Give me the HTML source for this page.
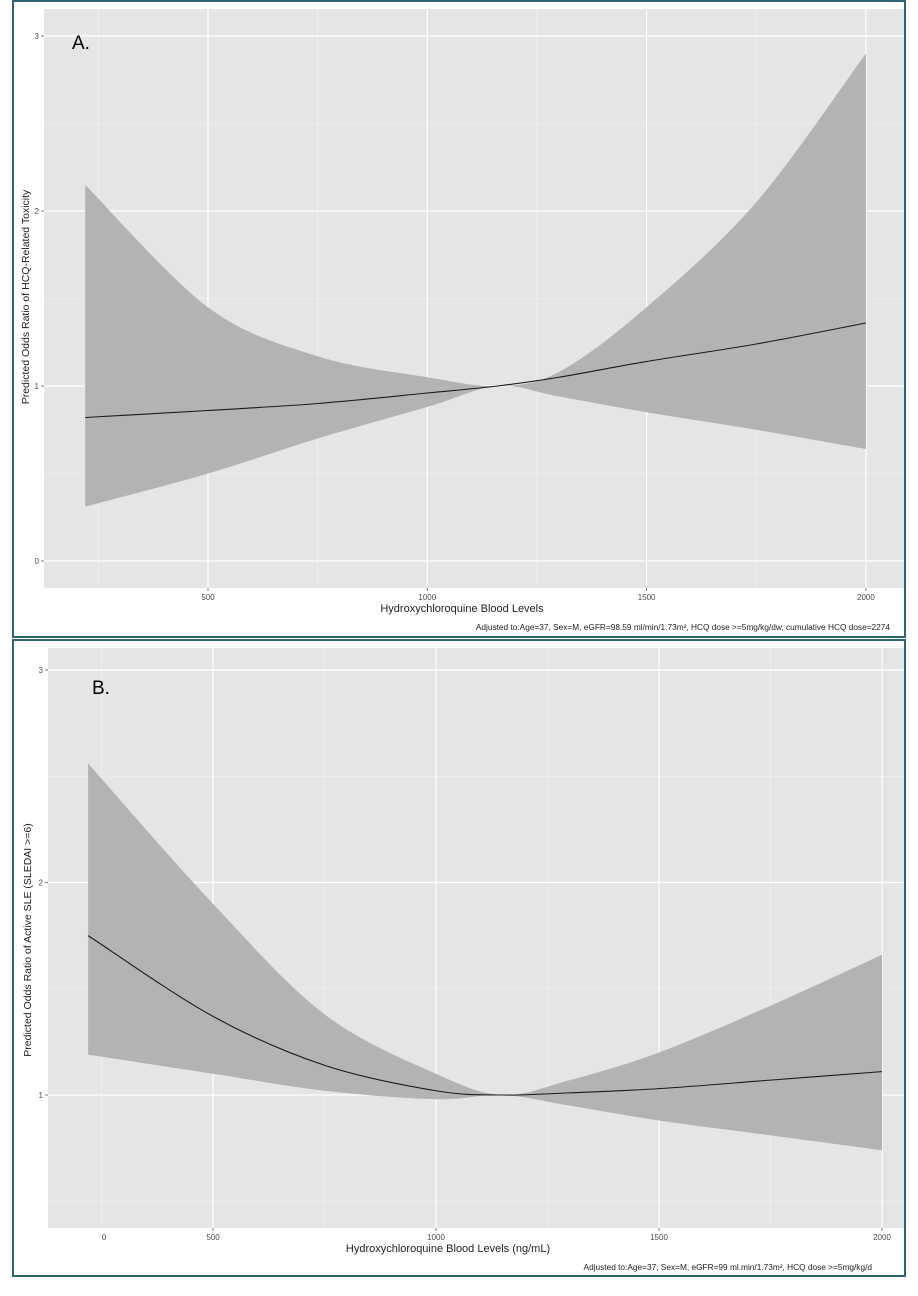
<!DOCTYPE html>
<html><head><meta charset="utf-8"><style>
html,body{margin:0;padding:0;background:#fff;}
svg{display:block;font-family:"Liberation Sans",sans-serif;}
</style></head><body>
<svg id="s" width="918" height="1296" viewBox="0 0 918 1296">
<rect x="0" y="0" width="918" height="1296" fill="#fff"/>
<g id="A"></g>
<g id="B"></g>
</svg>
<script>
// Panel A data
const aX = [220, 500, 750, 1000, 1160, 1300, 1500, 1750, 2000];
const aFit = [0.82, 0.86, 0.90, 0.96, 1.0, 1.05, 1.14, 1.24, 1.36];
const aUpper = [2.15, 1.45, 1.17, 1.05, 1.0, 1.08, 1.45, 2.05, 2.9];
const aLower = [0.31, 0.50, 0.70, 0.88, 1.0, 0.94, 0.85, 0.75, 0.64];
const aXTicks = [500, 1000, 1500, 2000];
const aYTicks = [0, 1, 2, 3];
// Panel B data
const bX = [220, 500, 750, 1000, 1150, 1300, 1500, 1750, 2000];
const bFit = [1.75, 1.37, 1.14, 1.02, 1.0, 1.01, 1.03, 1.07, 1.11];
const bUpper = [2.56, 1.9, 1.38, 1.1, 1.0, 1.07, 1.2, 1.42, 1.66];
const bLower = [1.19, 1.1, 1.02, 0.98, 1.0, 0.95, 0.88, 0.81, 0.74];
const bXTicks = [500, 1000, 1500, 2000];
const bYTicks = [1, 2, 3];

const NS = "http://www.w3.org/2000/svg";
function mk(p, tag, attrs, txt){const e=document.createElementNS(NS,tag);for(const k in attrs)e.setAttribute(k,attrs[k]);if(txt!==undefined)e.textContent=txt;p.appendChild(e);return e;}
function smooth(pts){let d="M"+pts[0][0]+","+pts[0][1];for(let i=0;i<pts.length-1;i++){const p0=pts[i-1]||pts[i],p1=pts[i],p2=pts[i+1],p3=pts[i+2]||p2;const c1=[p1[0]+(p2[0]-p0[0])/6,p1[1]+(p2[1]-p0[1])/6],c2=[p2[0]-(p3[0]-p1[0])/6,p2[1]-(p3[1]-p1[1])/6];d+=" C"+c1[0]+","+c1[1]+" "+c2[0]+","+c2[1]+" "+p2[0]+","+p2[1];}return d;}

function panel(g, cfg){
  const X=v=>cfg.x0+(v-cfg.v0)*cfg.kx, Y=v=>cfg.y0-v*cfg.ky;
  const border=mk(g,"rect",{x:cfg.bx,y:cfg.by,width:cfg.bw,height:cfg.bh,fill:"#fff",stroke:"#2e6378","stroke-width":2});
  
  const bg=mk(g,"rect",{x:cfg.px,y:cfg.py,width:cfg.pw,height:cfg.ph,fill:"#e5e5e5"});
  
  for(let v=250;v<=2250;v+=500){const x=X(v);if(x>cfg.px&&x<cfg.px+cfg.pw){const l=mk(g,"line",{x1:x,x2:x,y1:cfg.py,y2:cfg.py+cfg.ph,stroke:"#f2f2f2","stroke-width":0.6});}}
  for(let v=-0.5;v<=3.5;v+=1){const y=Y(v);if(y>cfg.py&&y<cfg.py+cfg.ph){const l=mk(g,"line",{x1:cfg.px,x2:cfg.px+cfg.pw,y1:y,y2:y,stroke:"#f2f2f2","stroke-width":0.6});}}
  cfg.xt.forEach(v=>{const x=X(v);const l=mk(g,"line",{x1:x,x2:x,y1:cfg.py,y2:cfg.py+cfg.ph,stroke:"#fff","stroke-width":1.2});
    mk(g,"line",{x1:x,x2:x,y1:cfg.py+cfg.ph,y2:cfg.py+cfg.ph+3,stroke:"#555","stroke-width":0.8});
    const t=mk(g,"text",{x:x,y:cfg.py+cfg.ph+12,"font-size":8,fill:"#4d4d4d","text-anchor":"middle"},String(v));});
  if(cfg.zeroLabel){const t=mk(g,"text",{x:cfg.zeroLabel,y:cfg.py+cfg.ph+12,"font-size":8,fill:"#4d4d4d","text-anchor":"middle"},"0");}
  cfg.yt.forEach(v=>{const y=Y(v);const l=mk(g,"line",{x1:cfg.px,x2:cfg.px+cfg.pw,y1:y,y2:y,stroke:"#fff","stroke-width":1.2});
    mk(g,"line",{x1:cfg.px-3,x2:cfg.px,y1:y,y2:y,stroke:"#555","stroke-width":0.8});
    const t=mk(g,"text",{x:cfg.px-5,y:y+3,"font-size":8,fill:"#4d4d4d","text-anchor":"end"},String(v));});
  const up=cfg.xs.map((v,i)=>[X(v),Y(cfg.up[i])]), lo=cfg.xs.map((v,i)=>[X(v),Y(cfg.lo[i])]).reverse();
  const dlo=smooth(lo).replace(/^M/,"L");
  const band=mk(g,"path",{d:smooth(up)+" "+dlo+" Z",fill:"#b3b3b3"});
  
  const line=mk(g,"path",{d:smooth(cfg.xs.map((v,i)=>[X(v),Y(cfg.fit[i])])),fill:"none",stroke:"#1a1a1a","stroke-width":1.1});
  
  const lab=mk(g,"text",{x:cfg.labx,y:cfg.laby,"font-size":19,fill:"#000"},cfg.label);
  const xt=mk(g,"text",{x:cfg.xtx,y:cfg.py+cfg.ph+24,"font-size":11,fill:"#222","text-anchor":"middle"},cfg.xtitle);
  const yt=mk(g,"text",{x:0,y:0,"font-size":10.5,fill:"#222","text-anchor":"middle",transform:`translate(${cfg.ytx},${cfg.yty}) rotate(-90)`},cfg.ytitle);
  const cap=mk(g,"text",{x:cfg.capx,y:cfg.capy,"font-size":8.3,fill:"#222","text-anchor":"end"},cfg.cap);
}
panel(document.getElementById("A"),{bx:13,by:1,bw:892,bh:636,px:44,py:9,pw:860,ph:579,x0:208,v0:500,kx:219.3/500,y0:561,ky:175,
  xt:aXTicks,yt:aYTicks,xs:aX,fit:aFit,up:aUpper,lo:aLower,label:"A.",labx:72,laby:49,xtitle:"Hydroxychloroquine Blood Levels",xtx:462,
  ytitle:"Predicted Odds Ratio of HCQ-Related Toxicity",ytx:29,yty:297,cap:"Adjusted to:Age=37, Sex=M, eGFR=98.59 ml/min/1.73m², HCQ dose >=5mg/kg/dw, cumulative HCQ dose=2274",capx:890,capy:630});
panel(document.getElementById("B"),{bx:13,by:640,bw:892,bh:636,px:48,py:648,pw:856,ph:580,x0:213,v0:500,kx:223/500,y0:1307.5,ky:212.5,
  xt:bXTicks,yt:bYTicks,xs:bX,fit:bFit,up:bUpper,lo:bLower,label:"B.",labx:92,laby:694,xtitle:"Hydroxychloroquine Blood Levels (ng/mL)",xtx:448,zeroLabel:104,
  ytitle:"Predicted Odds Ratio of Active SLE (SLEDAI >=6)",ytx:31,yty:940,cap:"Adjusted to:Age=37, Sex=M, eGFR=99 ml.min/1.73m², HCQ dose >=5mg/kg/d",capx:872,capy:1270});
</script>
</body></html>
